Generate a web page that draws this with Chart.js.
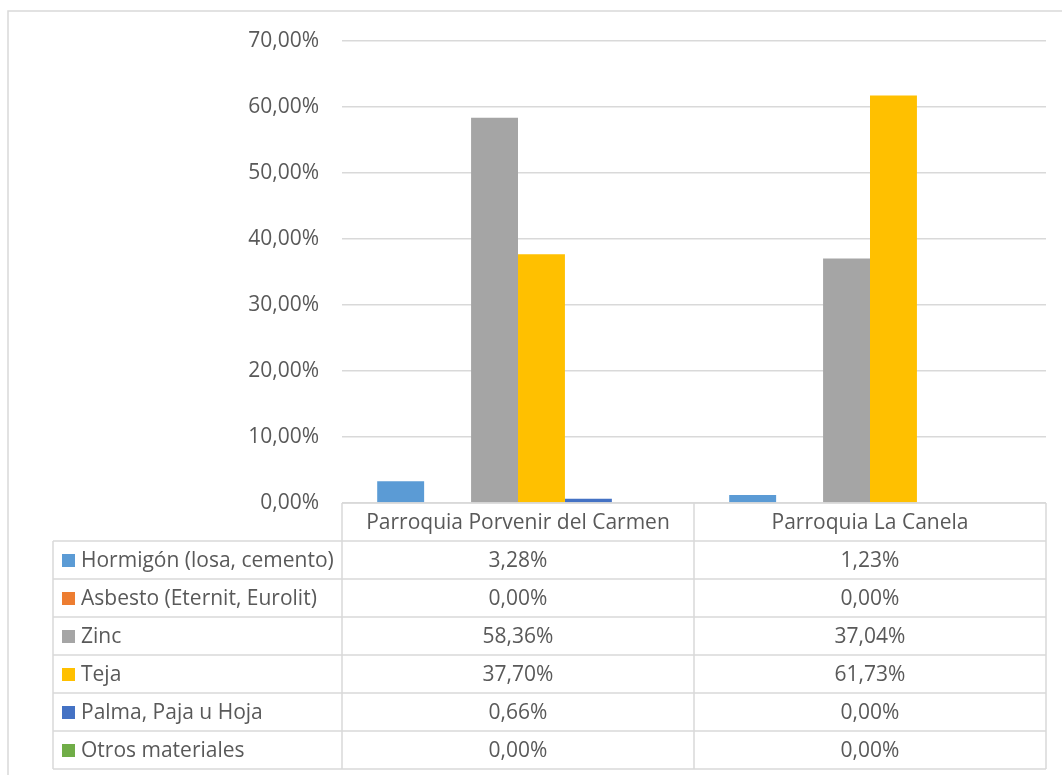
<!DOCTYPE html>
<html>
<head>
<meta charset="utf-8">
<script src="https://cdn.jsdelivr.net/npm/chart.js@4.4.0/dist/chart.umd.min.js"></script>
<style>
  html, body { margin: 0; padding: 0; background: #fff; }
  #wrap { position: relative; width: 1062px; height: 775px; }
</style>
</head>
<body>
<div id="wrap"><canvas id="grafico" width="1062" height="775"></canvas></div>
<script>
const categorias = ["Parroquia Porvenir del Carmen", "Parroquia La Canela"];
const materiales = [
  "Hormigón (losa, cemento)",
  "Asbesto (Eternit, Eurolit)",
  "Zinc",
  "Teja",
  "Palma, Paja u Hoja",
  "Otros materiales"
];
const valoresPorvenir = [3.28, 0.0, 58.36, 37.7, 0.66, 0.0];
const valoresCanela = [1.23, 0.0, 37.04, 61.73, 0.0, 0.0];
const colores = ["#5B9BD5", "#ED7D31", "#A5A5A5", "#FFC000", "#4472C4", "#70AD47"];
const ticksY = [0, 10, 20, 30, 40, 50, 60, 70];

const fuente = "'Open Sans', 'Noto Sans', sans-serif";
const tamFuente = 21;
const gris = "#595959";
const linea = "#d9d9d9";
const altoFila = 38;

const formato = (v) => v.toFixed(2).replace(".", ",") + "%";

// tabla de datos bajo el grafico, como en Excel
const tablaDatos = {
  id: "tablaDatos",
  beforeDraw(chart) {
    const ctx = chart.ctx;
    ctx.save();
    ctx.strokeStyle = linea;
    ctx.lineWidth = 1.5;
    ctx.beginPath();
    ctx.moveTo(8, chart.height);
    ctx.lineTo(8, 11);
    ctx.lineTo(chart.width, 11);
    ctx.stroke();
    ctx.restore();
  },
  afterDraw(chart) {
    const ctx = chart.ctx;
    const area = chart.chartArea;
    const x = chart.scales.x;
    const izq = 53;
    const top = area.bottom;
    const anchoCat = (area.right - area.left) / categorias.length;
    const filas = [valoresPorvenir, valoresCanela];
    const nFilas = materiales.length + 1;

    ctx.save();
    ctx.strokeStyle = linea;
    ctx.lineWidth = 1.5;
    ctx.beginPath();
    // linea base y cabecera
    ctx.moveTo(area.left, top);
    ctx.lineTo(area.right, top);
    for (let r = 1; r <= nFilas; r++) {
      ctx.moveTo(izq, top + r * altoFila);
      ctx.lineTo(area.right, top + r * altoFila);
    }
    const fondo = top + nFilas * altoFila;
    ctx.moveTo(izq, top + altoFila);
    ctx.lineTo(izq, fondo);
    for (let c = 0; c <= categorias.length; c++) {
      const px = area.left + c * anchoCat;
      ctx.moveTo(px, top);
      ctx.lineTo(px, fondo);
    }
    ctx.stroke();

    ctx.font = tamFuente + "px " + fuente;
    ctx.fillStyle = gris;
    ctx.textBaseline = "middle";
    ctx.textAlign = "center";
    categorias.forEach((cat, c) => {
      ctx.fillText(cat, x.getPixelForValue(c), top + altoFila / 2 + 1);
    });
    materiales.forEach((mat, r) => {
      const cy = top + (r + 1) * altoFila + altoFila / 2 + 1;
      ctx.fillStyle = colores[r];
      ctx.fillRect(62, cy - 7, 13, 13);
      ctx.fillStyle = gris;
      ctx.textAlign = "left";
      ctx.fillText(mat, 81, cy);
      ctx.textAlign = "center";
      filas.forEach((vals, c) => {
        ctx.fillText(formato(vals[r]), x.getPixelForValue(c), cy);
      });
    });
    ctx.restore();
  }
};

const datasets = materiales.map((mat, i) => ({
  label: mat,
  data: [valoresPorvenir[i], valoresCanela[i]],
  backgroundColor: colores[i],
  borderWidth: 0,
  categoryPercentage: 0.8,
  barPercentage: 1.0
}));

new Chart(document.getElementById("grafico"), {
  type: "bar",
  data: { labels: categorias, datasets: datasets },
  options: {
    responsive: false,
    animation: false,
    layout: { padding: { top: 41, right: 16, bottom: 272, left: 0 } },
    plugins: {
      legend: { display: false },
      tooltip: { enabled: false }
    },
    scales: {
      x: { display: false },
      y: {
        min: ticksY[0],
        max: ticksY[ticksY.length - 1],
        afterFit: (scale) => { scale.width = 342; },
        afterBuildTicks: (scale) => {
          scale.ticks = ticksY.map((v) => ({ value: v }));
        },
        grid: { color: linea, lineWidth: 1.5, drawTicks: false },
        border: { display: false },
        ticks: {
          padding: 23,
          color: gris,
          font: { family: fuente, size: tamFuente },
          callback: (v) => formato(v)
        }
      }
    }
  },
  plugins: [tablaDatos]
});
</script>
</body>
</html>
